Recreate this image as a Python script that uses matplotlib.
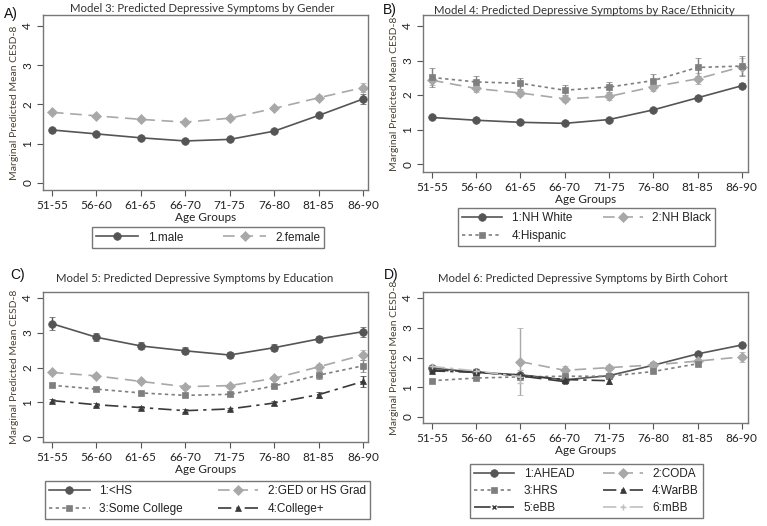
import matplotlib
matplotlib.use("Agg")
import matplotlib.pyplot as plt
from matplotlib.lines import Line2D
import numpy as np

ages = ["51-55", "56-60", "61-65", "66-70", "71-75", "76-80", "81-85", "86-90"]

# Panel A
male = [1.35, 1.25, 1.15, 1.07, 1.11, 1.32, 1.72, 2.14]
male_err = [0.04, 0.03, 0.03, 0.03, 0.03, 0.04, 0.06, 0.13]
female = [1.80, 1.71, 1.62, 1.55, 1.65, 1.90, 2.17, 2.43]
female_err = [0.04, 0.03, 0.03, 0.03, 0.03, 0.04, 0.06, 0.12]

# Panel B
white = [1.35, 1.27, 1.21, 1.18, 1.29, 1.57, 1.92, 2.27]
white_err = [0.03, 0.03, 0.03, 0.03, 0.03, 0.04, 0.05, 0.08]
black = [2.43, 2.19, 2.06, 1.89, 1.96, 2.24, 2.47, 2.82]
black_err = [0.15, 0.10, 0.09, 0.09, 0.10, 0.12, 0.16, 0.25]
hisp = [2.51, 2.38, 2.34, 2.14, 2.23, 2.42, 2.80, 2.84]
hisp_err = [0.27, 0.17, 0.16, 0.15, 0.15, 0.20, 0.26, 0.30]

# Panel C
lths = [3.26, 2.87, 2.62, 2.48, 2.36, 2.57, 2.82, 3.03]
lths_err = [0.18, 0.12, 0.10, 0.10, 0.09, 0.10, 0.10, 0.14]
ged = [1.86, 1.76, 1.60, 1.45, 1.48, 1.69, 2.02, 2.36]
ged_err = [0.06, 0.05, 0.05, 0.05, 0.05, 0.06, 0.09, 0.15]
somecol = [1.49, 1.38, 1.27, 1.20, 1.23, 1.47, 1.78, 2.05]
somecol_err = [0.06, 0.05, 0.05, 0.05, 0.05, 0.07, 0.11, 0.17]
colplus = [1.05, 0.93, 0.85, 0.76, 0.81, 0.98, 1.22, 1.60]
colplus_err = [0.05, 0.04, 0.04, 0.04, 0.04, 0.05, 0.09, 0.15]

# Panel D
ahead_x = [0, 1, 2, 3, 4, 5, 6, 7]
ahead = [1.65, 1.50, 1.42, 1.25, 1.39, 1.74, 2.12, 2.42]
ahead_err = [0.05, 0.04, 0.04, 0.04, 0.05, 0.05, 0.06, 0.08]
coda_x = [2, 3, 4, 5, 6, 7]
coda = [1.86, 1.57, 1.66, 1.75, 1.88, 2.02]
coda_err = [1.12, 0.15, 0.08, 0.07, 0.08, 0.18]
hrs_x = [0, 1, 2, 3, 4, 5, 6]
hrs = [1.22, 1.31, 1.35, 1.37, 1.37, 1.53, 1.79]
hrs_err = [0.05, 0.04, 0.04, 0.04, 0.05, 0.06, 0.08]
warbb_x = [0, 1, 2, 3, 4]
warbb = [1.55, 1.50, 1.40, 1.26, 1.22]
warbb_err = [0.05, 0.05, 0.05, 0.06, 0.10]
ebb_x = [0, 1, 2, 3]
ebb = [1.58, 1.52, 1.38, 1.19]
ebb_err = [0.05, 0.05, 0.05, 0.06]
mbb_x = [0, 1, 2]
mbb = [1.70, 1.55, 1.36]
mbb_err = [0.06, 0.06, 0.22]

W, H = 767, 526
fig = plt.figure(figsize=(W / 100, H / 100), dpi=100)

DARK = "#555555"
DARKER = "#3a3a3a"
LIGHT = "#a8a8a8"
MID = "#7f7f7f"
TXT = "#333333"

LONG = (0, (7, 4))
DOT = (0, (2, 2))
DASHDOT = (0, (8, 3, 2, 3))
LONGDASH = (0, (10, 4))

TFONT = "Lato"


def make_ax(l, t, r, b, xlim, ylim):
    ax = fig.add_axes([l / W, 1 - b / H, (r - l) / W, (b - t) / H])
    ax.set_xlim(*xlim)
    ax.set_ylim(*ylim)
    for s in ax.spines.values():
        s.set_color("#777777")
        s.set_linewidth(1.0)
    ax.set_xticks(range(len(ages)))
    ax.set_xticklabels(ages, fontsize=8.5, color="#222222", family=TFONT)
    ax.set_yticks([0, 1, 2, 3, 4])
    ax.set_yticklabels(["0", "1", "2", "3", "4"], fontsize=8.5, color="#222222",
                       family=TFONT, rotation=90, va="center")
    ax.tick_params(axis="both", length=4, width=0.8, color="#555555", pad=3)
    ax.set_xlabel("Age Groups", fontsize=8.5, color="#222222", family=TFONT, labelpad=1)
    ax.set_ylabel("Marginal Predicted Mean CESD-8", fontsize=7.5, color="#4a4436",
                  family=TFONT, labelpad=2.5)
    return ax


proxies = {}


def series(ax, x, y, e, color, ls, marker, ms=5.5, label=None, lw=1.2):
    mew = 1.0 if marker in ("x", "+") else 0.5
    ax.errorbar(x, y, yerr=e, color=color, ls=ls, marker=marker, ms=ms, lw=lw,
                capsize=2.5, elinewidth=1.0, capthick=1.0, markeredgewidth=mew)
    proxies.setdefault(ax, []).append(
        (Line2D([], [], color=color, ls=ls, marker=marker, ms=ms, lw=lw, markeredgewidth=mew), label))


def legend(ax, cx, cy, colsp, labsp=0.45, hl=3.4, fontsize=8.5):
    items = proxies[ax]
    items = items[0::2] + items[1::2]
    handles = [h for h, _ in items]
    labels = [l for _, l in items]
    leg = ax.legend(handles, labels, loc="center", bbox_to_anchor=(cx / W, 1 - cy / H),
                    bbox_transform=fig.transFigure, ncol=2, frameon=True,
                    fancybox=False, edgecolor="#555555",
                    handlelength=hl, columnspacing=colsp, handletextpad=0.8,
                    borderpad=0.35, labelspacing=labsp, borderaxespad=0,
                    prop={"family": "Liberation Sans", "size": fontsize})
    leg.get_frame().set_linewidth(1.0)
    for t in leg.get_texts():
        t.set_color("#222222")
    return leg


def title(text, letter, lx, ly, tx, ty):
    fig.text(tx / W, 1 - ty / H, text, ha="center", va="center", fontsize=8.2,
             color=TXT, family=TFONT)
    fig.text(lx / W, 1 - ly / H, letter, ha="left", va="center", fontsize=10,
             color="#111111", family="Liberation Sans")


x = np.arange(len(ages))

# ---- Panel A
axA = make_ax(43, 15, 368, 190, (-0.2, 7.11), (-0.18, 4.28))
series(axA, x, male, male_err, DARK, "-", "o", label="1.male")
series(axA, x, female, female_err, LIGHT, LONG, "D", ms=5, label="2.female")
legend(axA, 208, 237.5, colsp=3.4, hl=3.6)
title("Model 3: Predicted Depressive Symptoms by Gender", "A)", 4, 14, 202, 8)

# ---- Panel B
axB = make_ax(423, 15, 748, 172, (-0.2, 7.14), (-0.23, 4.32))
series(axB, x, white, white_err, DARK, "-", "o", label="1:NH White")
series(axB, x, black, black_err, LIGHT, LONG, "D", ms=5, label="2:NH Black")
series(axB, x, hisp, hisp_err, MID, DOT, "s", ms=5, label="4:Hispanic")
legend(axB, 586.5, 227, colsp=2.6, labsp=0.55)
title("Model 4: Predicted Depressive Symptoms by Race/Ethnicity", "B)", 383, 10, 584, 10)

# ---- Panel C
axC = make_ax(43, 292, 368, 442, (-0.2, 7.11), (-0.14, 4.17))
series(axC, x, lths, lths_err, DARK, "-", "o", label="1:<HS")
series(axC, x, ged, ged_err, LIGHT, LONG, "D", ms=5, label="2:GED or HS Grad")
series(axC, x, somecol, somecol_err, MID, DOT, "s", ms=5, label="3:Some College")
series(axC, x, colplus, colplus_err, DARKER, DASHDOT, "^", ms=5, label="4:College+")
legend(axC, 207.5, 500, colsp=3.0)
title("Model 5: Predicted Depressive Symptoms by Education", "C)", 10, 275, 195, 279)

# ---- Panel D
axD = make_ax(423, 292, 748, 423, (-0.2, 7.14), (-0.2, 4.2))
series(axD, ahead_x, ahead, ahead_err, DARK, "-", "o", label="1:AHEAD")
series(axD, coda_x, coda, coda_err, LIGHT, LONG, "D", ms=5, label="2:CODA")
series(axD, hrs_x, hrs, hrs_err, MID, DOT, "s", ms=5, label="3:HRS")
series(axD, warbb_x, warbb, warbb_err, DARKER, DASHDOT, "^", ms=5, label="4:WarBB")
series(axD, ebb_x, ebb, ebb_err, DARKER, LONGDASH, "x", ms=3.5, label="5:eBB")
series(axD, mbb_x, mbb, mbb_err, "#c0c0c0", DASHDOT, "+", ms=5, label="6:mBB")
legend(axD, 586.5, 491, colsp=2.4)
title("Model 6: Predicted Depressive Symptoms by Birth Cohort", "D)", 384, 275, 583, 278)

fig.savefig("out.png", dpi=100)
